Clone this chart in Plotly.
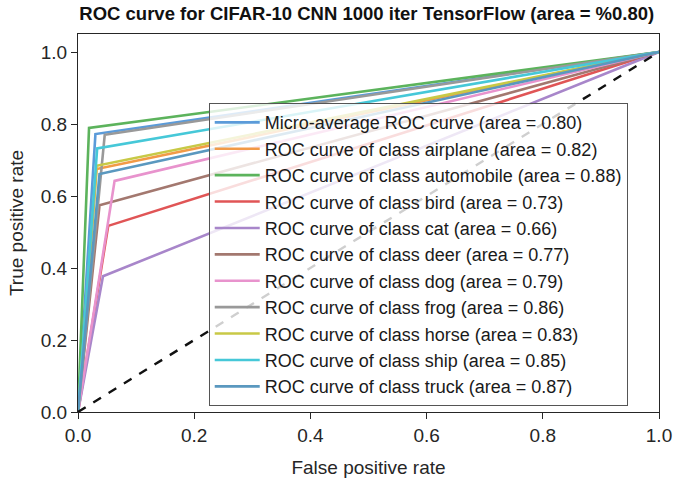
import plotly.graph_objects as go

labels = [
    "Micro-average ROC curve (area = 0.80)",
    "ROC curve of class airplane (area = 0.82)",
    "ROC curve of class automobile (area = 0.88)",
    "ROC curve of class bird (area = 0.73)",
    "ROC curve of class cat (area = 0.66)",
    "ROC curve of class deer (area = 0.77)",
    "ROC curve of class dog (area = 0.79)",
    "ROC curve of class frog (area = 0.86)",
    "ROC curve of class horse (area = 0.83)",
    "ROC curve of class ship (area = 0.85)",
    "ROC curve of class truck (area = 0.87)",
]
fpr_mid = [0.030, 0.032, 0.019, 0.052, 0.043, 0.037, 0.063, 0.046, 0.032, 0.033, 0.037]
tpr_mid = [0.772, 0.675, 0.789, 0.517, 0.377, 0.574, 0.642, 0.770, 0.684, 0.732, 0.661]
colors = ["#5b9bd9", "#f29a47", "#5cb35c", "#e05556", "#a886ca", "#a3786f",
          "#e893cd", "#999999", "#c8c946", "#46c8d8", "#5a98bf"]
diag_x = [0, 1]
diag_y = [0, 1]

FONT = "Liberation Sans, Arial, Helvetica, sans-serif"

fig = go.Figure()
for lab, fx, ty, c in zip(labels, fpr_mid, tpr_mid, colors):
    fig.add_trace(go.Scatter(x=[0, fx, 1], y=[0, ty, 1], mode="lines", name=lab,
                             line=dict(color=c, width=2.6)))
fig.add_trace(go.Scatter(x=diag_x, y=diag_y, mode="lines", showlegend=False,
                         line=dict(color="#111111", width=2.4, dash="dash")))

axis_common = dict(
    showgrid=False, zeroline=False, showline=True, mirror=True, automargin=False,
    linecolor="#262626", linewidth=1.3, ticks="outside", ticklen=6, tickwidth=1.2,
    tickcolor="#262626", tickformat=".1f", dtick=0.2, tick0=0,
    tickfont=dict(family=FONT, size=19, color="#262626"),
)
fig.update_xaxes(range=[0, 1], title=dict(text="False positive rate", standoff=15,
                 font=dict(family=FONT, size=19, color="#262626")), **axis_common)
fig.update_yaxes(range=[0, 1.05], title=dict(text="True positive rate", standoff=11,
                 font=dict(family=FONT, size=19, color="#262626")), **axis_common)

fig.update_layout(
    width=673, height=484,
    margin=dict(l=78, r=14, t=34, b=72),
    paper_bgcolor="white", plot_bgcolor="white",
    title=dict(text="<b>ROC curve for CIFAR-10 CNN 1000 iter TensorFlow (area = %0.80)</b>",
               x=0.545, xanchor="center", y=0.973, yanchor="middle",
               font=dict(family=FONT, size=18.5, color="#111111")),
    legend=dict(x=0.225, y=0.817, xanchor="left", yanchor="top",
                bgcolor="rgba(255,255,255,0.8)", bordercolor="#555555", borderwidth=1,
                font=dict(family=FONT, size=18, color="#1a1a1a"),
                tracegroupgap=0, itemwidth=45),
    showlegend=True,
)

fig.write_html("out.html", config={"displayModeBar": False},
               post_script="document.body.style.margin='0';")
